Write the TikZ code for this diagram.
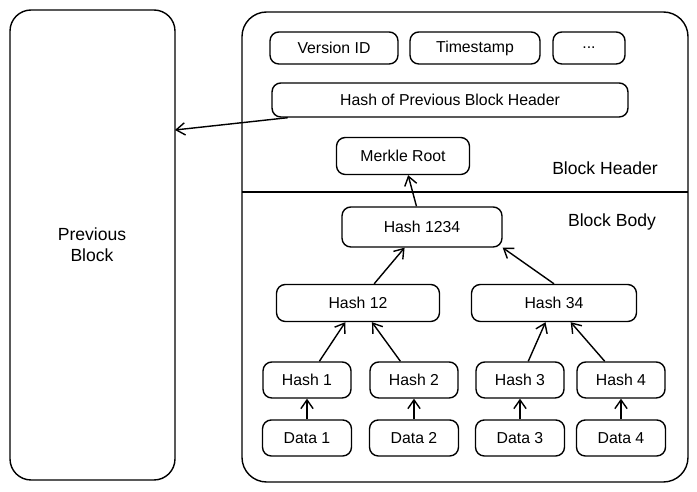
\documentclass[tikz,border=0pt]{standalone}
\usepackage{fontspec}
\setmainfont{Liberation Sans}
\usepackage{tikz}
\usetikzlibrary{arrows.meta,positioning}

\tikzset{
    box/.style={draw, thick, rounded corners=5pt, minimum height=0.7cm, font=\small, inner sep=0pt},
    link/.style={-{Straight Barb[length=5pt,width=7pt]}, thick}
}

\begin{document}
\begin{tikzpicture}[x=0.02cm, y=-0.02cm]
    % Frame
    \useasboundingbox (0,0) rectangle (697,492);
    
    % Previous block
    \draw[thick, rounded corners=12pt] (10,10) rectangle (175,480);
    \node[align=center] (prev) at (92,245) {Previous\\Block};
    \coordinate (prevIn) at (175,130);
    
    % Current block
    \draw[thick, rounded corners=14pt] (242,12) rectangle (688,482);
    \draw[thick] (242,192) -- (688,192);
    \node (headLbl) at (605,168) {Block Header};
    \node (bodyLbl) at (612,222) {Block Body};
    
    % Header fields
    \node[box, minimum width=2.56cm, minimum height=0.64cm] (version) at (334,48) {Version ID};
    \node[box, minimum width=2.6cm, minimum height=0.64cm] (time) at (475,48) {Timestamp};
    \node[box, minimum width=1.44cm, minimum height=0.64cm] (more) at (589,48) {...};
    \node[box, minimum width=7.12cm, minimum height=0.68cm] (prevHash) at (450,100) {Hash of Previous Block Header};
    \node[box, minimum width=2.66cm, minimum height=0.74cm] (root) at (403,156) {Merkle Root};
    
    % Merkle tree
    \node[box, minimum width=3.2cm, minimum height=0.8cm] (h1234) at (422,227) {Hash 1234};
    \node[box, minimum width=3.26cm, minimum height=0.74cm] (h12) at (358,303) {Hash 12};
    \node[box, minimum width=3.3cm, minimum height=0.74cm] (h34) at (554,303) {Hash 34};
    
    \foreach \i/\x in {1/307, 2/414, 3/520, 4/621} {
        \node[box, minimum width=1.76cm, minimum height=0.72cm] (h\i) at (\x,380) {Hash \i};
        \node[box, minimum width=1.78cm, minimum height=0.72cm] (d\i) at (\x,438) {Data \i};
        \draw[link] (d\i) -- (h\i);
    }
    
    % Connectors
    \draw[link] (h1) -- (h12);
    \draw[link] (h2) -- (h12);
    \draw[link] (h3) -- (h34);
    \draw[link] (h4) -- (h34);
    \draw[link] (h12) -- (h1234);
    \draw[link] (h34.north) -- (h1234.south east);
    \draw[link] (h1234) -- (root);
    \draw[link] (prevHash) -- (prevIn);
\end{tikzpicture}
\end{document}
